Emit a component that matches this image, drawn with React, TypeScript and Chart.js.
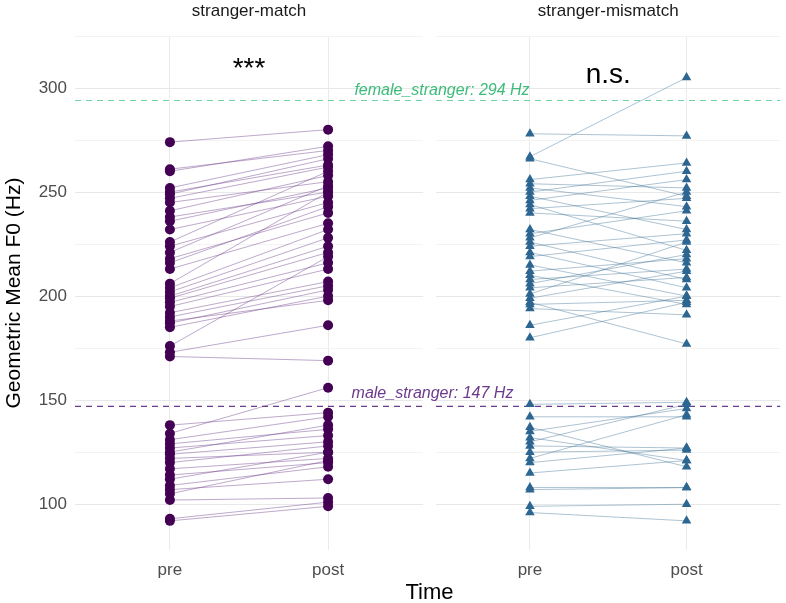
import { useEffect, useRef } from "react";
import { Chart, registerables } from "chart.js";
Chart.register(...registerables);

const timeLabels = ["pre", "post"];
const panelLabels = ["stranger-match", "stranger-mismatch"];
const sigLabels = ["***", "n.s."];
const sigValues = [309, 306];
const refValues = [294, 147];
const refLabels = ["female_stranger: 294 Hz", "male_stranger: 147 Hz"];
const yAxisTitle = "Geometric Mean F0 (Hz)";
const xAxisTitle = "Time";

const matchPre = [
  274, 261, 260, 252, 250, 249, 247, 245, 241, 238, 236, 232, 226, 224, 221, 218, 216, 213, 206, 204, 202, 200,
  199, 197, 195, 192, 190, 188, 187, 185, 176, 173, 171,
  138, 134, 131, 129, 127, 125, 124, 122, 120, 117, 114, 112, 109, 107, 105, 102, 93, 92,
];
const matchPost = [
  280, 270, 272, 268, 263, 266, 262, 255, 258, 250, 252, 248, 260, 245, 253, 240, 243, 235, 250, 232, 228, 224,
  221, 216, 213, 207, 205, 198, 203, 200, 219, 186, 169,
  144, 156, 142, 136, 133, 138, 130, 125, 128, 122, 120, 125, 118, 112, 121, 103, 101, 99,
];
const mismatchPre = [
  278, 267, 266, 256, 254, 252, 250, 248, 246, 244, 242, 240, 232, 230, 228, 226, 224, 221, 219, 215, 212, 210,
  208, 206, 204, 201, 199, 196, 194, 197, 186, 180,
  148, 142, 137, 135, 132, 130, 128, 125, 122, 120, 115, 108, 107, 99, 96,
];
const mismatchPost = [
  277, 305, 248, 264, 252, 243, 260, 232, 256, 222, 247, 236, 216, 241, 250, 208, 230, 204, 227, 200, 218, 196,
  213, 220, 209, 226, 212, 198, 191, 177, 200, 197,
  149, 142, 118, 146, 121, 148, 127, 126, 143, 127, 121, 108, 108, 100, 92,
];

const FONT = "'Liberation Sans', Arial, sans-serif";
const W = 786;
const H = 603;
const X_MIN = 0.4;
const X_MAX = 2.6;
const Y_MIN = 78;
const Y_MAX = 325;

type PanelOpts = {
  pre: number[];
  post: number[];
  pointColor: string;
  lineColor: string;
  pointStyle: string;
  radius: number;
  isLeft: boolean;
  panelIndex: number;
};

function buildConfig(o: PanelOpts): any {
  const points = o.pre.map((v) => ({ x: 1, y: v })).concat(o.post.map((v) => ({ x: 2, y: v })));
  const lines: any[] = [];
  o.pre.forEach((v, i) => {
    lines.push({ x: 1, y: v });
    lines.push({ x: 2, y: o.post[i] });
    lines.push({ x: 1.5, y: null });
  });
  const refColors = ["rgba(75,200,140,0.8)", "#6b3a8c"];
  const refTextColors = ["#3cbb7a", "#6b3a8c"];
  const refDatasets = refValues.map((v, i) => ({
    type: "line",
    data: [
      { x: X_MIN, y: v },
      { x: X_MAX, y: v },
    ],
    borderColor: refColors[i],
    borderWidth: 1.2,
    borderDash: [6, 5],
    pointRadius: 0,
    order: 3,
  }));

  const textPlugin = {
    id: "panelText" + o.panelIndex,
    afterDraw(chart: any) {
      const ctx = chart.ctx;
      const area = chart.chartArea;
      const xs = chart.scales.x;
      const ys = chart.scales.y;
      ctx.save();
      ctx.textAlign = "center";
      ctx.textBaseline = "middle";
      ctx.fillStyle = "#1a1a1a";
      ctx.font = `17px ${FONT}`;
      ctx.fillText(panelLabels[o.panelIndex], (area.left + area.right) / 2, 11);
      ctx.fillStyle = "#000";
      ctx.font = `28px ${FONT}`;
      ctx.fillText(sigLabels[o.panelIndex], xs.getPixelForValue(1.5), ys.getPixelForValue(sigValues[o.panelIndex]));
      if (o.isLeft) {
        ctx.font = `italic 16px ${FONT}`;
        ctx.fillStyle = refTextColors[0];
        ctx.fillText(refLabels[0], xs.getPixelForValue(2.72), ys.getPixelForValue(refValues[0]) - 10);
        ctx.fillStyle = refTextColors[1];
        ctx.fillText(refLabels[1], xs.getPixelForValue(2.66), ys.getPixelForValue(refValues[1]) - 13);
        ctx.fillStyle = "#000";
        ctx.font = `22px ${FONT}`;
        ctx.fillText(xAxisTitle, (area.left + W - 2) / 2, H - 10);
      }
      ctx.restore();
    },
  };

  return {
    type: "scatter",
    data: {
      datasets: [
        {
          type: "scatter",
          data: points,
          backgroundColor: o.pointColor,
          borderColor: o.pointColor,
          pointStyle: o.pointStyle,
          pointRadius: o.radius,
          pointHoverRadius: o.radius,
          borderWidth: 0,
          order: 1,
        },
        {
          type: "line",
          data: lines,
          borderColor: o.lineColor,
          borderWidth: 1,
          pointRadius: 0,
          spanGaps: false,
          order: 2,
        },
        ...refDatasets,
      ],
    },
    options: {
      responsive: false,
      animation: false,
      devicePixelRatio: 1,
      layout: {
        padding: o.isLeft ? { left: 0, top: 36, right: W - 423, bottom: 0 } : { left: 436, top: 36, right: 2, bottom: 0 },
      },
      plugins: { legend: { display: false }, tooltip: { enabled: false }, title: { display: false } },
      scales: {
        x: {
          type: "linear",
          min: X_MIN,
          max: X_MAX,
          afterBuildTicks: (s: any) => {
            s.ticks = [{ value: 1 }, { value: 2 }];
          },
          afterFit: (s: any) => {
            s.height = H - 550;
          },
          ticks: {
            autoSkip: false,
            maxRotation: 0,
            padding: 10,
            color: "#4d4d4d",
            font: { family: FONT, size: 17 },
            callback: (v: any) => (v === 1 ? timeLabels[0] : v === 2 ? timeLabels[1] : ""),
          },
          grid: { color: "#ebebeb", lineWidth: 1, drawTicks: false },
          border: { display: false },
        },
        y: {
          type: "linear",
          min: Y_MIN,
          max: Y_MAX,
          afterBuildTicks: (s: any) => {
            const t: any[] = [];
            for (let v = 100; v <= Y_MAX; v += 25) t.push({ value: v });
            s.ticks = t;
          },
          afterFit: (s: any) => {
            s.width = o.isLeft ? 75 : 0;
          },
          ticks: {
            display: o.isLeft,
            padding: 8,
            color: "#4d4d4d",
            font: { family: FONT, size: 17 },
            callback: (v: any) => (v % 50 === 0 && v <= 300 ? String(v) : ""),
          },
          grid: {
            drawTicks: false,
            color: (c: any) => (c.tick && c.tick.value % 50 === 0 ? "#e8e8e8" : "#f3f3f3"),
            lineWidth: 1,
          },
          border: { display: false },
          title: {
            display: o.isLeft,
            text: yAxisTitle,
            color: "#000",
            font: { family: FONT, size: 21 },
            padding: { top: 2, bottom: 0 },
          },
        },
      },
    },
    plugins: [textPlugin],
  };
}

export default function App() {
  const leftRef = useRef<HTMLCanvasElement>(null);
  const rightRef = useRef<HTMLCanvasElement>(null);
  useEffect(() => {
    const left = new Chart(
      leftRef.current as HTMLCanvasElement,
      buildConfig({
        pre: matchPre,
        post: matchPost,
        pointColor: "#440154",
        lineColor: "rgba(100, 50, 130, 0.42)",
        pointStyle: "circle",
        radius: 5,
        isLeft: true,
        panelIndex: 0,
      })
    );
    const right = new Chart(
      rightRef.current as HTMLCanvasElement,
      buildConfig({
        pre: mismatchPre,
        post: mismatchPost,
        pointColor: "#2d6690",
        lineColor: "rgba(49, 104, 142, 0.4)",
        pointStyle: "triangle",
        radius: 5.5,
        isLeft: false,
        panelIndex: 1,
      })
    );
    return () => {
      left.destroy();
      right.destroy();
    };
  }, []);
  const cs: any = { position: "absolute", left: 0, top: 0, width: W, height: H };
  return (
    <div style={{ position: "absolute", left: 0, top: 0, width: W, height: H, background: "#fff" }}>
      <canvas ref={rightRef} width={W} height={H} style={cs} />
      <canvas ref={leftRef} width={W} height={H} style={cs} />
    </div>
  );
}
